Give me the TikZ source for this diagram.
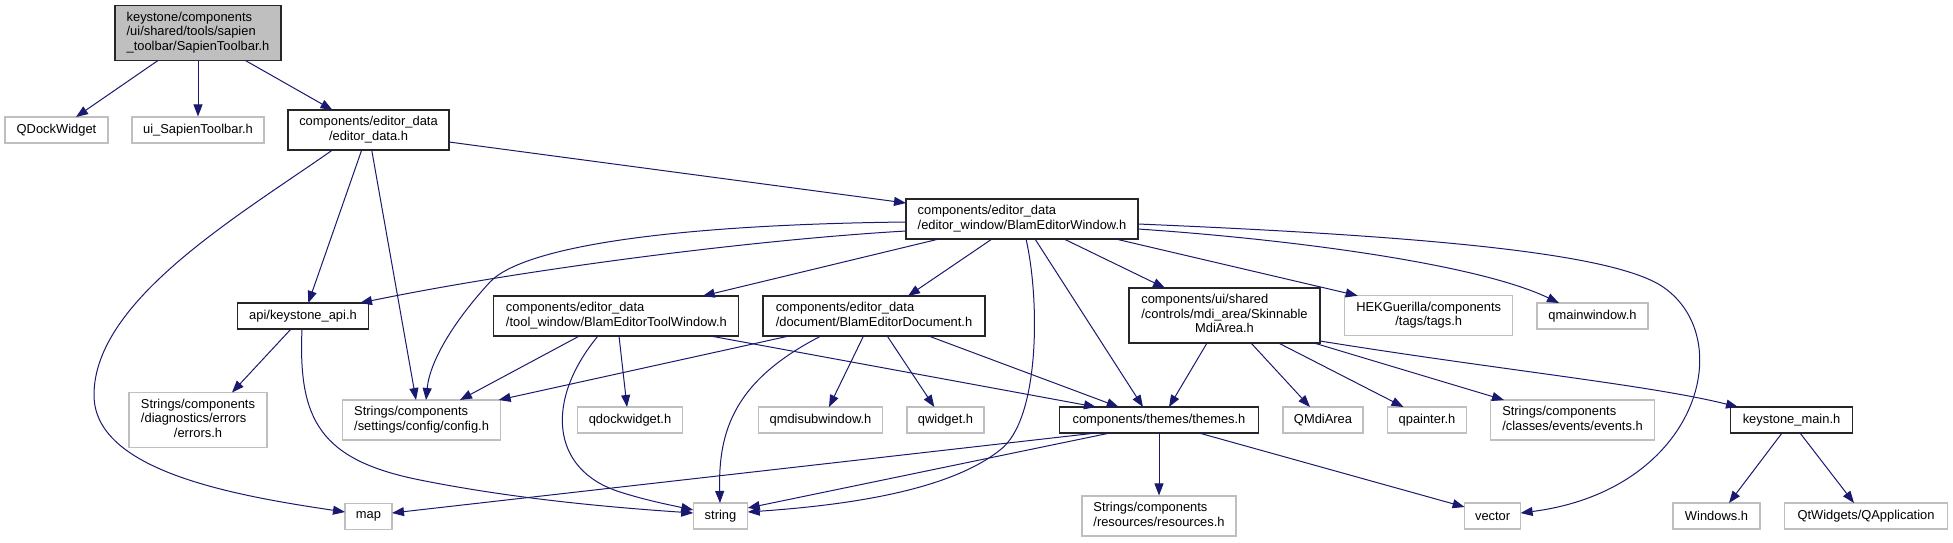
\documentclass[tikz,border=0pt]{standalone}
\usepackage{fontspec}
\setmainfont{Liberation Sans}
\usetikzlibrary{arrows.meta}
\definecolor{edgeblue}{HTML}{191970}
\definecolor{extgray}{HTML}{BFBFBF}
\newcommand\mlab[1]{\begin{tabular}{@{}l@{}}#1\end{tabular}}
\newcommand\lastc[1]{\multicolumn{1}{@{}c@{}}{#1}}
\begin{document}
\begin{tikzpicture}[x=1pt,y=-1pt,
 box/.style={draw=black!85, line width=1.1pt, fill=white, rectangle, inner sep=0pt, font=\fontsize{12.9}{14.5}\selectfont},
 ext/.style={box, draw=extgray},
 rootbox/.style={box, fill=extgray},
 dep/.style={draw=edgeblue, line width=1pt, -{Triangle[length=12pt,width=9pt]}}]
\useasboundingbox (0,0) rectangle (1953,543);
% nodes
\node[rootbox, minimum width=166pt, minimum height=55pt] (root) at (198,33) {\mlab{keystone/components\\/ui/shared/tools/sapien\\\_toolbar/SapienToolbar.h}};
\node[ext, minimum width=103pt, minimum height=26pt] (qdw) at (56.5,130) {QDockWidget};
\node[ext, minimum width=132pt, minimum height=26pt] (uist) at (198,130) {ui\_SapienToolbar.h};
\node[box, minimum width=161pt, minimum height=40pt] (ed) at (368.5,130) {\mlab{components/editor\_data\\\lastc{/editor\_data.h}}};
\node[box, minimum width=232pt, minimum height=40pt] (bew) at (1022,219) {\mlab{components/editor\_data\\/editor\_window/BlamEditorWindow.h}};
\node[box, minimum width=131pt, minimum height=26pt] (api) at (303,316) {api/keystone\_api.h};
\node[box, minimum width=245pt, minimum height=40pt] (tw) at (616.4,316) {\mlab{components/editor\_data\\/tool\_window/BlamEditorToolWindow.h}};
\node[box, minimum width=222pt, minimum height=40pt] (bed) at (874,316) {\mlab{components/editor\_data\\/document/BlamEditorDocument.h}};
\node[box, minimum width=191pt, minimum height=55pt] (sk) at (1224.5,315.5) {\mlab{components/ui/shared\\/controls/mdi\_area/Skinnable\\\lastc{MdiArea.h}}};
\node[ext, minimum width=168pt, minimum height=40pt] (hek) at (1428.7,315.7) {\mlab{HEKGuerilla/components\\\lastc{/tags/tags.h}}};
\node[ext, minimum width=111pt, minimum height=26pt] (qmw) at (1592.5,316) {qmainwindow.h};
\node[ext, minimum width=138pt, minimum height=55pt] (err) at (198,420) {\mlab{Strings/components\\/diagnostics/errors\\\lastc{/errors.h}}};
\node[ext, minimum width=158.5pt, minimum height=40pt] (cfg) at (421.6,420) {\mlab{Strings/components\\/settings/config/config.h}};
\node[ext, minimum width=105.5pt, minimum height=26pt] (qdk) at (630,420) {qdockwidget.h};
\node[ext, minimum width=124pt, minimum height=26pt] (qmdi) at (820.5,420) {qmdisubwindow.h};
\node[ext, minimum width=77pt, minimum height=26pt] (qw) at (945.5,420) {qwidget.h};
\node[box, minimum width=199pt, minimum height=26pt] (th) at (1159,420) {components/themes/themes.h};
\node[ext, minimum width=80pt, minimum height=26pt] (qma) at (1323,420) {QMdiArea};
\node[ext, minimum width=79pt, minimum height=26pt] (qp) at (1427,420) {qpainter.h};
\node[ext, minimum width=164pt, minimum height=40pt] (ev) at (1572.5,420) {\mlab{Strings/components\\/classes/events/events.h}};
\node[box, minimum width=122pt, minimum height=26pt] (km) at (1791.5,420) {keystone\_main.h};
\node[ext, minimum width=47pt, minimum height=26pt] (map) at (368.5,516.5) {map};
\node[ext, minimum width=54.5pt, minimum height=26pt] (str) at (720.5,516) {string};
\node[ext, minimum width=154pt, minimum height=40pt] (res) at (1159,516) {\mlab{Strings/components\\/resources/resources.h}};
\node[ext, minimum width=56pt, minimum height=26pt] (vec) at (1492.6,516) {vector};
\node[ext, minimum width=87pt, minimum height=26pt] (win) at (1716.5,516) {Windows.h};
\node[ext, minimum width=163pt, minimum height=26pt] (qapp) at (1866,516) {QtWidgets/QApplication};
% edges from root
\draw[dep] ([shift={(-40,27.5)}]root.center) -- ([shift={(19.5,-13)}]qdw.center);
\draw[dep] (root.south) -- (uist.north);
\draw[dep] ([shift={(47.4,27.5)}]root.center) -- ([shift={(-36,-20)}]ed.center);
% edges from editor_data
\draw[dep] ([shift={(80.5,12)}]ed.center) -- ([shift={(-116,-16)}]bew.center);
\draw[dep] ([shift={(-36,20)}]ed.center) .. controls (240,215) and (94,300) .. (94,395) .. controls (94,470) and (230,495) .. ([shift={(-23.5,-4.5)}]map.center);
\draw[dep] ([shift={(-6.8,20)}]ed.center) -- ([shift={(5.3,-13)}]api.center);
\draw[dep] ([shift={(3.2,20)}]ed.center) -- ([shift={(-5.6,-20)}]cfg.center);
% edges from BlamEditorWindow
\draw[dep] ([shift={(-116,12)}]bew.center) .. controls (750,240) and (520,270) .. ([shift={(57,-13)}]api.center);
\draw[dep] ([shift={(-116,3)}]bew.center) .. controls (650,225) and (520,250) .. (490,282) .. controls (455,320) and (430,360) .. ([shift={(4.4,-20)}]cfg.center);
\draw[dep] ([shift={(-83,20)}]bew.center) -- ([shift={(86.3,-20)}]tw.center);
\draw[dep] ([shift={(-30,20)}]bew.center) -- ([shift={(34,-20)}]bed.center);
\draw[dep] ([shift={(4,20)}]bew.center) .. controls (1040,300) and (1040,420) .. (1000,450) .. controls (950,490) and (850,505) .. ([shift={(27.25,-4)}]str.center);
\draw[dep] ([shift={(13,20)}]bew.center) -- ([shift={(-16,-13)}]th.center);
\draw[dep] ([shift={(42,20)}]bew.center) -- ([shift={(-59.5,-27.5)}]sk.center);
\draw[dep] ([shift={(93.6,20)}]bew.center) -- ([shift={(-71,-20)}]hek.center);
\draw[dep] ([shift={(116,10)}]bew.center) .. controls (1300,240) and (1480,265) .. ([shift={(-33.5,-13)}]qmw.center);
\draw[dep] ([shift={(116,5)}]bew.center) .. controls (1450,237) and (1610,255) .. (1660,285) .. controls (1740,335) and (1700,490) .. ([shift={(28,-3)}]vec.center);
% edges from keystone_api
\draw[dep] ([shift={(-12,13)}]api.center) -- ([shift={(34,-27.5)}]err.center);
\draw[dep] ([shift={(-1,13)}]api.center) .. controls (298,420) and (320,460) .. (420,480) .. controls (520,500) and (620,508) .. ([shift={(-27.25,-3)}]str.center);
% edges from ToolWindow
\draw[dep] ([shift={(-37,20)}]tw.center) -- ([shift={(38.4,-20)}]cfg.center);
\draw[dep] ([shift={(-18.4,20)}]tw.center) .. controls (545,400) and (550,470) .. (620,492) .. controls (645,500) and (670,505) .. ([shift={(-27.25,-6)}]str.center);
\draw[dep] ([shift={(2.6,20)}]tw.center) -- ([shift={(-3,-13)}]qdk.center);
\draw[dep] ([shift={(94,20)}]tw.center) -- ([shift={(-63,-13)}]th.center);
% edges from BlamEditorDocument
\draw[dep] ([shift={(-85,20)}]bed.center) -- ([shift={(77,-20)}]cfg.center);
\draw[dep] ([shift={(-53,20)}]bed.center) .. controls (735,380) and (718,430) .. ([shift={(-0.5,-13)}]str.center);
\draw[dep] ([shift={(-10.5,20)}]bed.center) -- ([shift={(8.5,-13)}]qmdi.center);
\draw[dep] ([shift={(13.2,20)}]bed.center) -- ([shift={(-11.2,-13)}]qw.center);
\draw[dep] ([shift={(54.6,20)}]bed.center) -- ([shift={(-40.3,-13)}]th.center);
% edges from SkinnableMdiArea
\draw[dep] ([shift={(-17.5,27.5)}]sk.center) -- ([shift={(10,-13)}]th.center);
\draw[dep] ([shift={(26.5,27.5)}]sk.center) -- ([shift={(-13,-13)}]qma.center);
\draw[dep] ([shift={(54,27.5)}]sk.center) -- ([shift={(-23.5,-13)}]qp.center);
\draw[dep] ([shift={(89.5,27.5)}]sk.center) -- ([shift={(-68.5,-20)}]ev.center);
\draw[dep] ([shift={(95.5,25.5)}]sk.center) .. controls (1500,370) and (1650,385) .. ([shift={(-53.5,-13)}]km.center);
% edges from themes
\draw[dep] ([shift={(-63,13)}]th.center) -- ([shift={(23.5,-3.5)}]map.center);
\draw[dep] ([shift={(-49,13)}]th.center) -- ([shift={(27.25,-8)}]str.center);
\draw[dep] (th.south) -- (res.north);
\draw[dep] ([shift={(40,13)}]th.center) -- ([shift={(-28,-9)}]vec.center);
% edges from keystone_main
\draw[dep] ([shift={(-9.5,13)}]km.center) -- ([shift={(12.5,-13)}]win.center);
\draw[dep] ([shift={(8.5,13)}]km.center) -- ([shift={(-12,-13)}]qapp.center);
\end{tikzpicture}
\end{document}
